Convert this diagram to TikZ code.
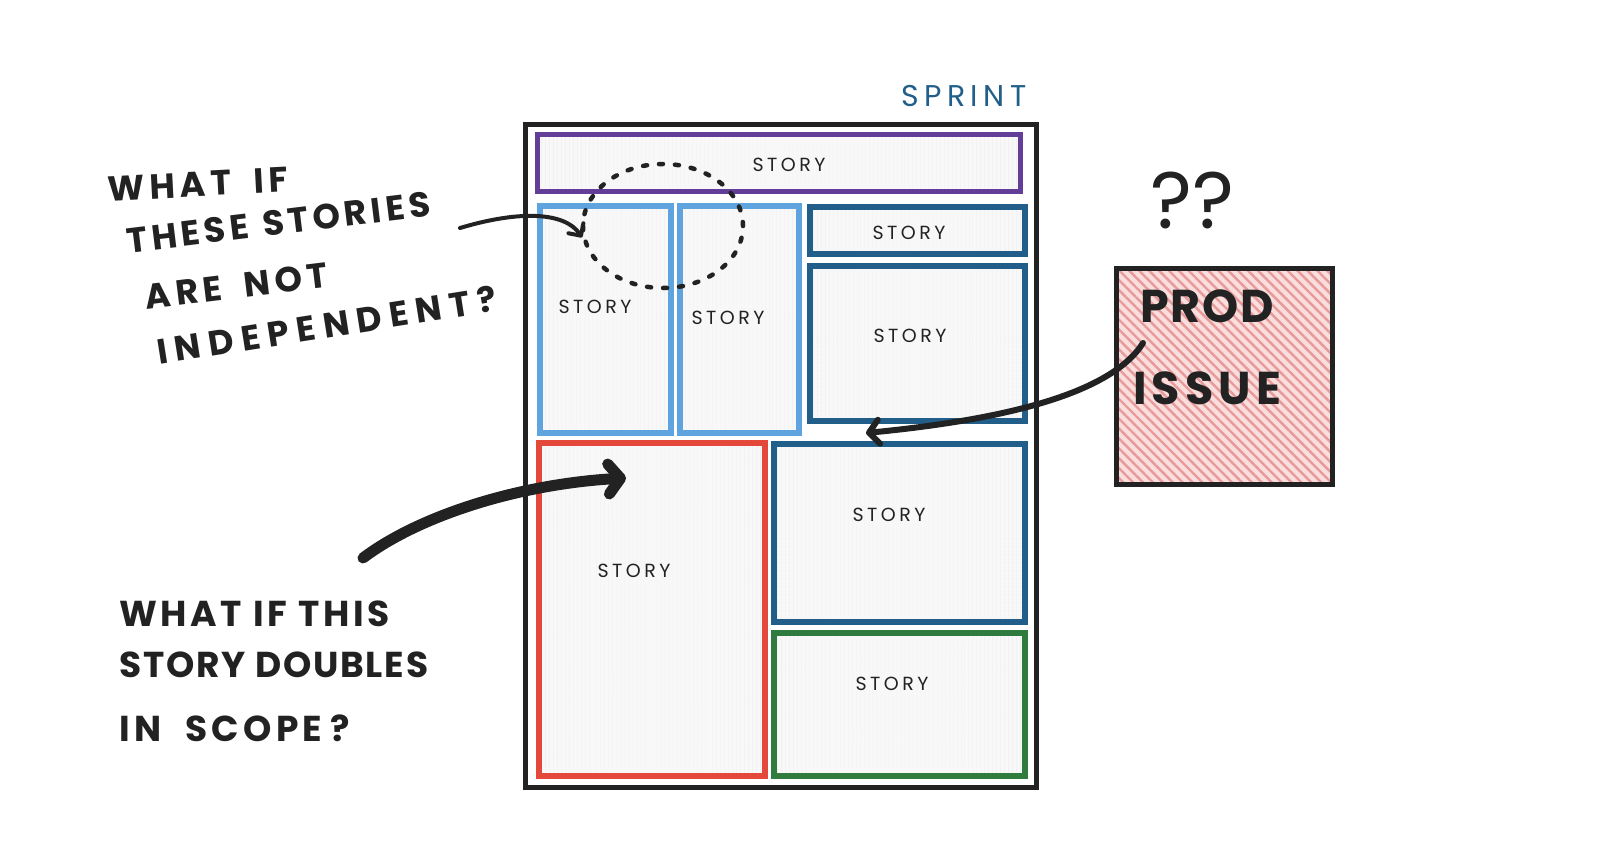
\documentclass[tikz,border=0pt]{standalone}
\usepackage{fontspec}
\setmainfont{Poppins}
\usetikzlibrary{arrows.meta,shapes.geometric,patterns.meta}
\definecolor{ink}{HTML}{222222}
\definecolor{cpurple}{HTML}{623E99}
\definecolor{clblue}{HTML}{5FA3DF}
\definecolor{cdblue}{HTML}{215E8A}
\definecolor{cred}{HTML}{E4483A}
\definecolor{cgreen}{HTML}{2F7C3E}
\definecolor{storyfill}{HTML}{F8F8F8}
\definecolor{storyline}{HTML}{ECECEC}
\definecolor{prodfill}{HTML}{FADDDD}
\definecolor{prodline}{HTML}{E79A9A}
\newcommand{\lsp}[1]{\addfontfeature{LetterSpace=#1}}
\begin{document}
\begin{tikzpicture}[x=1pt,y=-1pt,
  storybox/.style={draw=#1, line width=5.5pt, inner sep=0pt, anchor=north west,
    preaction={fill=storyfill}, pattern={Lines[angle=90,distance=4pt,line width=0.7pt]},
    pattern color=storyline},
  storylabel/.style={font=\fontsize{19}{19}\selectfont\lsp{18}, text=ink, inner sep=0pt},
  note/.style={font=\fontsize{#1}{#1}\selectfont\bfseries, text=ink, inner sep=0pt},
  note/.default=36,
  arrowthin/.style={draw=ink, line width=4pt, line cap=round,
    -{Straight Barb[round,length=9pt,width=18pt]}},
  arrowthick/.style={draw=ink, line width=11pt, line cap=round,
    -{Straight Barb[round,length=12pt,width=30pt]}},
  arrowmid/.style={draw=ink, line width=6pt, line cap=round,
    -{Straight Barb[round,length=10pt,width=24pt]}}
]
\useasboundingbox (0,0) rectangle (1600,854);
\fill[white] (0,0) rectangle (1600,854);

% sprint frame
\node[draw=ink, line width=5pt, inner sep=0pt, anchor=north west,
  minimum width=511pt, minimum height=663pt] (frame) at (523,122) {};
\node[font=\fontsize{30}{30}\selectfont\lsp{18}, text=cdblue, inner sep=0pt] (sprint) at (964,96) {SPRINT};

% stories
\node[storybox=cpurple, minimum width=483pt, minimum height=57pt] (s1) at (537,134) {};
\node[storybox=clblue, minimum width=131pt, minimum height=227pt] (s2) at (537,203) {};
\node[storybox=clblue, minimum width=119pt, minimum height=227pt] (s3) at (677,203) {};
\node[storybox=cdblue, minimum width=215pt, minimum height=47pt] (s4) at (807,204) {};
\node[storybox=cdblue, minimum width=215pt, minimum height=155pt] (s5) at (807,263) {};
\node[storybox=cred, minimum width=226pt, minimum height=333pt] (s6) at (536,440) {};
\node[storybox=cdblue, minimum width=251pt, minimum height=178pt] (s7) at (771,441) {};
\node[storybox=cgreen, minimum width=251pt, minimum height=143pt] (s8) at (771,630) {};

\node[storylabel] (l1) at (789,165) {STORY};
\node[storylabel] (l2) at (595,307) {STORY};
\node[storylabel] (l3) at (728,318) {STORY};
\node[storylabel] (l4) at (909,233) {STORY};
\node[storylabel] (l5) at (910,336) {STORY};
\node[storylabel] (l6) at (634,571) {STORY};
\node[storylabel] (l7) at (889,515) {STORY};
\node[storylabel] (l8) at (892,684) {STORY};

% dotted loop
\node[draw=ink, ellipse, line width=4.5pt, dash pattern=on 4pt off 12pt, line cap=round,
  minimum width=160pt, minimum height=124pt, inner sep=0pt] (loop) at (663,226) {};

% prod issue
\node[draw=ink, line width=5pt, minimum width=216pt, minimum height=216pt, inner sep=0pt,
  preaction={fill=prodfill}, pattern={Lines[angle=-45,distance=7pt,line width=2.4pt]},
  pattern color=prodline] (prod) at (1224,376) {};
\node[note=46, anchor=west] (prodt) at (1140,306) {\lsp{4}PROD};
\node[note=46, anchor=west] (issuet) at (1133,388) {\lsp{11}ISSUE};
\node[font=\fontsize{80}{80}\selectfont, text=ink, inner sep=0pt] (qq) at (1192,200) {??};

% annotation 1
\node[note=35, anchor=west, rotate=3] (n1a) at (108,189) {\lsp{14}WHAT\hspace{22pt}IF};
\node[note=35, anchor=west, rotate=7] (n1b) at (127,241) {\lsp{12}THESE\hspace{14pt}STORIES};
\node[note=35, anchor=west, rotate=7] (n1c) at (145,297) {\lsp{14}ARE\hspace{22pt}NOT};
\node[note=35, anchor=west, rotate=9] (n1d) at (157,352) {\lsp{22}INDEPENDENT?};

% annotation 2
\node[note=36, anchor=west] (n2a) at (119,614) {\lsp{10}WHAT IF THIS};
\node[note=36, anchor=west] (n2b) at (119,665) {\lsp{5}STORY DOUBLES};
\node[note=36, anchor=west] (n2c) at (119,728) {\lsp{12}IN\hspace{24pt}SCOPE\hspace{8pt}?};

% arrows
\coordinate (a1s) at (460,228);
\draw[arrowthin] (a1s) .. controls (520,210) and (565,212) .. (loop.188);
\coordinate (a2s) at (363,558);
\coordinate (a2e) at (626,478);
\draw[arrowthick] (a2s) .. controls (420,515) and (520,484) .. (a2e);
\coordinate (a3s) at (1143,343);
\coordinate (a3e) at (866,433);
\draw[arrowmid] (a3s) .. controls (1110,395) and (1000,420) .. (a3e);
\end{tikzpicture}
\end{document}
